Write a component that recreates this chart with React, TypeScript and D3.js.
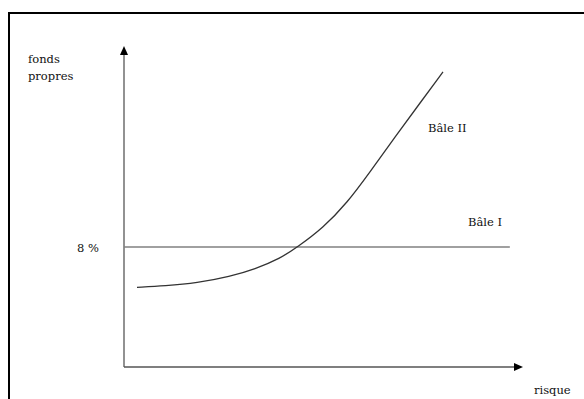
import React from "react";
import * as d3 from "d3";

const riskValues = [3.26, 10.28, 18.3, 26.57, 32.83, 39.1, 43.48, 49.87, 55.89, 61.65, 67.92, 74.19, 79.95];
const bale2Values = [5.31, 5.41, 5.6, 6.03, 6.53, 7.23, 8.0, 9.27, 10.93, 13.0, 15.33, 17.6, 19.67];
const bale1Level = 8;
const bale1Extent = [0, 96.7];
const yLabelLines = ["fonds", "propres"];
const xLabel = "risque";
const levelLabel = "8 %";
const seriesLabels = ["Bâle I", "Bâle II"];

const W = 584;
const H = 399;

export default function App() {
  const x = d3.scaleLinear().domain([0, 100]).range([124, 523]);
  const y = d3.scaleLinear().domain([0, 20]).range([367, 67]);

  const line = d3
    .line<number>()
    .x((_, i) => x(riskValues[i]))
    .y((d) => y(d))
    .curve(d3.curveBasis);

  const x0 = x(0);
  const y0 = y(0);
  const yTop = y(21.4);
  const xEnd = x(100);
  const textStyle: React.CSSProperties = {
    fontFamily: '"DejaVu Serif", serif',
    fontSize: "11.5px",
    fill: "#111",
  };

  return (
    <svg width={W} height={H} style={{ position: "absolute", left: 0, top: 0 }}>
      <rect x={0} y={0} width={W} height={H} fill="#fff" />
      <rect x={9} y={13} width={590} height={400} fill="none" stroke="#000" strokeWidth={2} />
      <line x1={x0} y1={y0} x2={x0} y2={yTop + 8} stroke="#777" strokeWidth={1.6} />
      <path d={`M${x0},${yTop} L${x0 - 4},${yTop + 9} L${x0 + 4},${yTop + 9} Z`} fill="#000" />
      <line x1={x0} y1={y0} x2={xEnd - 8} y2={y0} stroke="#555" strokeWidth={1.6} />
      <path d={`M${xEnd},${y0} L${xEnd - 9},${y0 - 4} L${xEnd - 9},${y0 + 4} Z`} fill="#000" />
      <line
        x1={x(bale1Extent[0])}
        y1={y(bale1Level)}
        x2={x(bale1Extent[1])}
        y2={y(bale1Level)}
        stroke="#808080"
        strokeWidth={1.6}
      />
      <path d={line(bale2Values) || ""} fill="none" stroke="#333" strokeWidth={1.3} />
      <text x={28} y={63} style={textStyle}>
        {yLabelLines[0]}
      </text>
      <text x={28} y={80} style={textStyle}>
        {yLabelLines[1]}
      </text>
      <text x={77} y={252} style={textStyle}>{levelLabel}</text>
      <text x={468} y={226} style={textStyle}>{seriesLabels[0]}</text>
      <text x={428} y={132} style={textStyle}>{seriesLabels[1]}</text>
      <text x={534} y={394} style={textStyle}>{xLabel}</text>
    </svg>
  );
}
